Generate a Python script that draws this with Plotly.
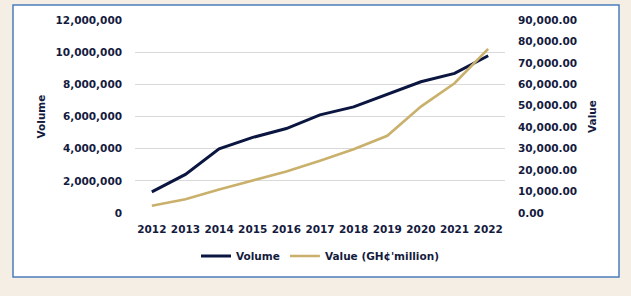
import plotly.graph_objects as go

years = ["2012", "2013", "2014", "2015", "2016", "2017", "2018", "2019", "2020", "2021", "2022"]
volume = [1310000, 2400000, 3990000, 4700000, 5250000, 6100000, 6600000, 7380000, 8160000, 8680000, 9780000]
value_ghc = [3400, 6400, 11000, 15000, 19300, 24400, 29700, 36000, 49600, 60500, 76500]

NAVY = "#0B1640"
GOLD = "#C9B06B"
TXT = "#141B3E"
BG = "#F5EEE4"
FONT = dict(family="DejaVu Sans", size=10.5, color=TXT, weight="bold")

fig = go.Figure()
fig.add_trace(go.Scatter(x=years, y=volume, name="Volume", mode="lines",
                         line=dict(color=NAVY, width=3), yaxis="y"))
fig.add_trace(go.Scatter(x=years, y=value_ghc, name="Value (GH¢'million)", mode="lines",
                         line=dict(color=GOLD, width=2.6), yaxis="y2"))

fig.update_layout(
    width=631, height=296,
    margin=dict(l=135, r=126, t=20, b=83),
    paper_bgcolor=BG,
    plot_bgcolor="rgba(0,0,0,0)",
    font=FONT,
    showlegend=True,
    legend=dict(orientation="h", x=0.5, xanchor="center", y=-0.223, yanchor="middle",
                font=FONT, bgcolor="rgba(0,0,0,0)"),
    xaxis=dict(type="category", range=[-0.5, 10.5], showgrid=False, zeroline=False, showline=False,
               ticks="", tickfont=FONT, ticklabelstandoff=8),
    yaxis=dict(range=[0, 12000000], dtick=2000000, tickformat=",d", showgrid=True,
               gridcolor="#D9D9D9", gridwidth=1, zeroline=False, showline=False, ticks="",
               tickfont=FONT, ticklabelstandoff=12,
               title=dict(text="Volume", font=FONT, standoff=7)),
    yaxis2=dict(range=[0, 90000], dtick=10000, tickformat=",.2f", overlaying="y", side="right",
                showgrid=False, zeroline=False, showline=False, ticks="",
                tickfont=FONT, ticklabelstandoff=12,
                title=dict(text="Value", font=FONT, standoff=12)),
    shapes=[dict(type="rect", xref="paper", yref="paper",
                 x0=(13 - 135) / 370, x1=(619 - 135) / 370,
                 y0=(213 - 277) / 193, y1=(213 - 5) / 193,
                 fillcolor="white", line=dict(color="#4A7EBB", width=1.5), layer="below")],
)

fig.write_html("out.html", config={"displayModeBar": False},
               post_script="document.body.style.margin='0';document.body.style.background='%s';" % BG)
